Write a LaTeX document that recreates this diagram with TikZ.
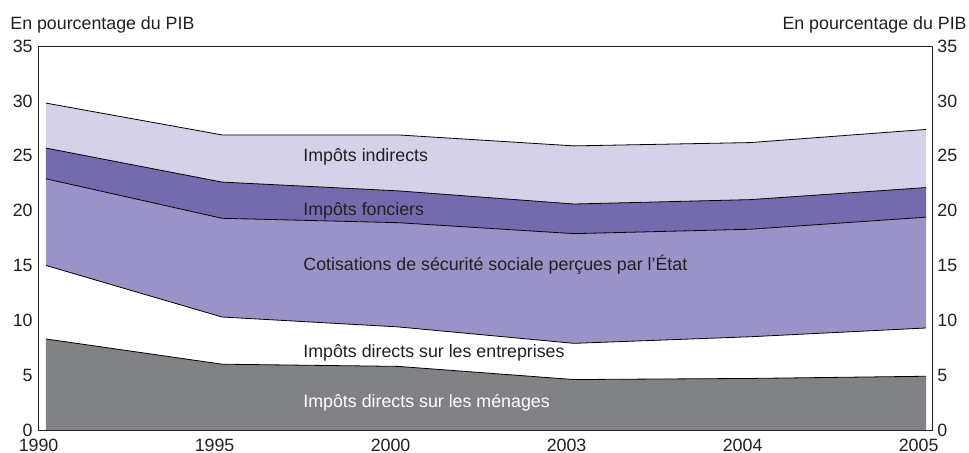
\documentclass[tikz,border=0pt]{standalone}
\usepackage{fontspec}
\setmainfont{Liberation Sans}
\usetikzlibrary{positioning}

\definecolor{indirects}{HTML}{D5D1E8}
\definecolor{fonciers}{HTML}{746BAF}
\definecolor{cotis}{HTML}{9A93C8}
\definecolor{menages}{HTML}{808285}
\definecolor{ink}{HTML}{231F20}

\begin{document}
\begin{tikzpicture}[x=88pt, y=5.485pt,
    txt/.style={font=\fontsize{8.9}{10}\selectfont, text=ink, inner sep=0pt},
    lbl/.style={txt, anchor=base west},
    edge/.style={draw=black, line width=0.4pt}]

  \useasboundingbox (-23pt,-11pt) rectangle (461.5pt,215pt);

  % stacked bands
  \fill[indirects] (0,29.8) -- (1,26.9) -- (2,26.9) -- (3,25.9) -- (4,26.2) -- (5,27.4)
    -- (5,22.1) -- (4,21.0) -- (3,20.6) -- (2,21.8) -- (1,22.6) -- (0,25.7) -- cycle;
  \fill[fonciers] (0,25.7) -- (1,22.6) -- (2,21.8) -- (3,20.6) -- (4,21.0) -- (5,22.1)
    -- (5,19.4) -- (4,18.3) -- (3,17.9) -- (2,18.9) -- (1,19.3) -- (0,22.9) -- cycle;
  \fill[cotis] (0,22.9) -- (1,19.3) -- (2,18.9) -- (3,17.9) -- (4,18.3) -- (5,19.4)
    -- (5,9.3) -- (4,8.5) -- (3,7.9) -- (2,9.4) -- (1,10.3) -- (0,15.0) -- cycle;
  \fill[menages] (0,8.3) -- (1,6.0) -- (2,5.8) -- (3,4.6) -- (4,4.7) -- (5,4.9)
    -- (5,0) -- (0,0) -- cycle;

  \draw[edge] (0,29.8) -- (1,26.9) -- (2,26.9) -- (3,25.9) -- (4,26.2) -- (5,27.4);
  \draw[edge] (0,25.7) -- (1,22.6) -- (2,21.8) -- (3,20.6) -- (4,21.0) -- (5,22.1);
  \draw[edge] (0,22.9) -- (1,19.3) -- (2,18.9) -- (3,17.9) -- (4,18.3) -- (5,19.4);
  \draw[edge] (0,15.0) -- (1,10.3) -- (2,9.4) -- (3,7.9) -- (4,8.5) -- (5,9.3);
  \draw[edge] (0,8.3) -- (1,6.0) -- (2,5.8) -- (3,4.6) -- (4,4.7) -- (5,4.9);

  % frame
  \draw[line width=0.5pt, ink] (-3.5pt,0) rectangle (443pt,35);

  \foreach \v in {0,5,...,35} {
    \node[txt, anchor=east] (yl\v) at (-6.5pt,\v) {\v};
    \node[txt, anchor=west] (yr\v) at (445.5pt,\v) {\v};
  }
  \foreach \yr [count=\i from 0] in {1990,1995,2000,2003,2004,2005}
    \node[txt, anchor=base] (xl\yr) at ([xshift=-3.7pt]\i,0) [yshift=-10.5pt] {\yr};

  \node[txt, anchor=base west] (unitl) at (-18pt,200.5pt) {En pourcentage du PIB};
  \node[txt, anchor=base east] (unitr) at (460.5pt,200.5pt) {En pourcentage du PIB};

  \node[lbl] (indir) at (128.5pt,134.5pt) {Impôts indirects};
  \node[lbl] (fonc) at (128.5pt,107.5pt) {Impôts fonciers};
  \node[lbl] (cot) at (128.5pt,80pt) {Cotisations de sécurité sociale perçues par l’État};
  \node[lbl] (entr) at (128.5pt,36.5pt) {Impôts directs sur les entreprises};
  \node[lbl, text=white] (men) at (128.5pt,11.5pt) {Impôts directs sur les ménages};
\end{tikzpicture}
\end{document}
